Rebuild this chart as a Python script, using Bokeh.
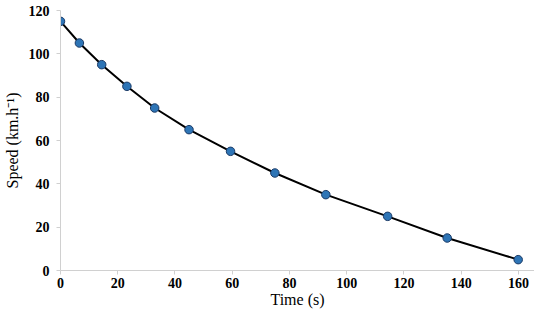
from bokeh.plotting import figure
from bokeh.models import Range1d, FixedTicker
from bokeh.embed import file_html
from bokeh.resources import INLINE

time_s = [0, 6.6, 14.4, 23.2, 32.9, 44.9, 59.4, 74.9, 92.7, 114.3, 135.1, 159.9]
speed = [115, 105, 95, 85, 75, 65, 55, 45, 35, 25, 15, 5]
x_ticks = [0, 20, 40, 60, 80, 100, 120, 140, 160]
y_ticks = [0, 20, 40, 60, 80, 100, 120]
x_title = "Time (s)"
y_title = "Speed (km.h\u207b\u00b9)"

p = figure(width=534, height=310, output_backend="svg", toolbar_location=None,
           x_range=Range1d(0, 165.6), y_range=Range1d(0, 120),
           min_border_left=60, min_border_right=0, min_border_top=10, min_border_bottom=39)
p.outline_line_color = None
p.grid.visible = False
p.background_fill_color = "white"
p.border_fill_color = "white"

p.line(time_s, speed, line_color="black", line_width=2)
p.scatter(time_s, speed, size=8.5, fill_color="#2E75B6", line_color="#1B3A66", line_width=1)

font = "Liberation Serif"
for ax in (p.xaxis[0], p.yaxis[0]):
    ax.axis_line_color = "#D0D0D0"
    ax.major_tick_line_color = "#D0D0D0"
    ax.major_tick_out = 4
    ax.major_tick_in = 0
    ax.minor_tick_line_color = None
    ax.major_label_text_font = font
    ax.major_label_text_font_style = "bold"
    ax.major_label_text_font_size = "14px"
    ax.major_label_text_color = "black"
    ax.axis_label_text_font = font
    ax.axis_label_text_font_style = "normal"
    ax.axis_label_text_font_size = "16px"
    ax.axis_label_text_color = "black"

p.xaxis.ticker = FixedTicker(ticks=x_ticks)
p.yaxis.ticker = FixedTicker(ticks=y_ticks)
p.xaxis.axis_label = x_title
p.yaxis.axis_label = y_title
p.xaxis.major_label_standoff = 3
p.xaxis.axis_label_standoff = 0
p.yaxis.major_label_standoff = 7
p.yaxis.axis_label_standoff = 5

open("out.html", "w").write(file_html(p, INLINE))
